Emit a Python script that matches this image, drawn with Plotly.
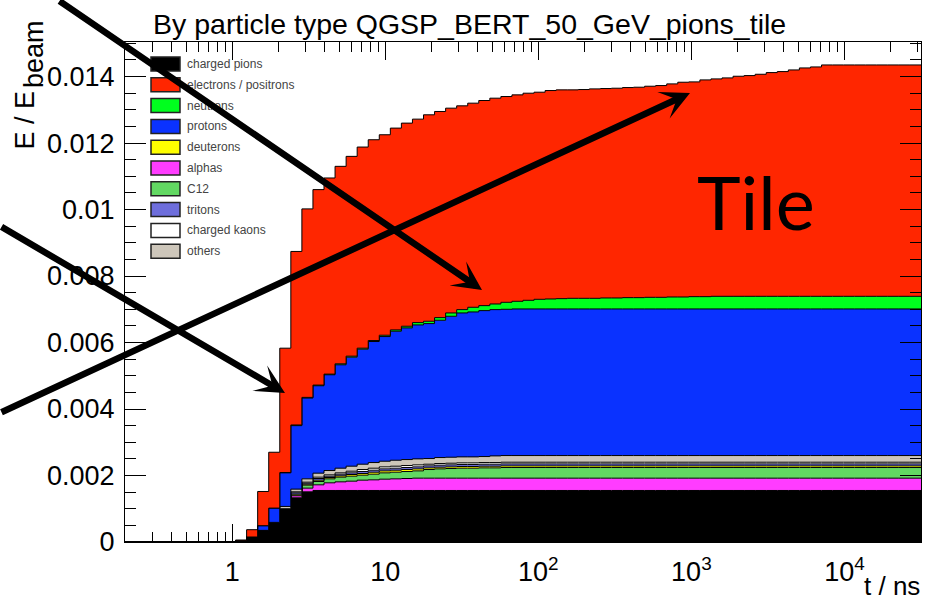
import numpy as np
import plotly.graph_objects as go

# ---- binning of the arrival-time histogram (log10 of t in ns) ----
LOG_T_MIN, LOG_T_MAX, N_BINS = -0.7, 4.5, 72
N_EMPTY = 10  # first bins (t < ~1.2 ns) hold no deposit

# ---- cumulative deposited energy per bin, E / E_beam (bins 10..71) ----
charged_pions = [0.00004, 0.00015, 0.00035, 0.00057, 0.00099, 0.00133, 0.00151] + [0.00155] * 55
alphas = [0, 0, 0, 0, 0,
          0.00006, 0.00011, 0.00017, 0.00023, 0.00026, 0.00028, 0.00031, 0.00032, 0.00034, 0.00035,
          0.00036] + [0.00037] * 46
c12 = [0, 0, 0, 0, 0,
       0.00002, 0.00009, 0.00010, 0.00012, 0.00014, 0.00015, 0.00015, 0.00017, 0.00019, 0.00020,
       0.00021, 0.00022, 0.00026, 0.00028, 0.00029, 0.00030, 0.00030, 0.00031, 0.00031] + [0.00032] * 38
deuterons = [0, 0, 0, 0, 0,
             0.00003, 0.00003, 0.00004, 0.00004, 0.00004, 0.00005, 0.00005] + [0.00006] * 5 + [0.00005] * 45
tritons = [0, 0, 0, 0, 0,
           0.00004, 0.00003, 0.00005, 0.00004, 0.00005, 0.00005, 0.00006] + [0.00006] * 5 + [0.00006] * 45
charged_kaons = [0, 0, 0, 0, 0.00001,
                 0.00003, 0.00003, 0.00004, 0.00004, 0.00004, 0.00005, 0.00006] + [0.00006] * 5 + [0.00005] * 45
others = [0, 0, 0,
          0.00002, 0.00007, 0.00008, 0.00010, 0.00012, 0.00013, 0.00014, 0.00015, 0.00016, 0.00017,
          0.00017, 0.00018, 0.00018, 0.00018, 0.00017] + [0.00018] * 5 + [0.00020] * 39
protons = [0, 0, 0.00014, 0.00043, 0.00101, 0.00191, 0.00243, 0.00263, 0.00288, 0.00311,
           0.00328, 0.00346, 0.00364, 0.00375, 0.00388, 0.00396, 0.00403, 0.00406, 0.00413, 0.00424,
           0.00433, 0.00436, 0.00439, 0.00440, 0.00440] + [0.00441] * 37
neutrons = [0, 0, 0, 0,
            0.00001, 0.00002, 0.00002, 0.00002, 0.00002, 0.00003, 0.00003, 0.00003, 0.00003, 0.00004,
            0.00004, 0.00005, 0.00007, 0.00007, 0.00008, 0.00010, 0.00010, 0.00014, 0.00015, 0.00017,
            0.00021, 0.00023, 0.00026, 0.00029, 0.00030, 0.00031, 0.00032, 0.00032, 0.00032, 0.00033,
            0.00033, 0.00034, 0.00034, 0.00035, 0.00035, 0.00036, 0.00036, 0.00037, 0.00037] + [0.00038] * 19
electrons = [0.00002, 0.00022, 0.00103, 0.00168, 0.00374, 0.00522, 0.00567, 0.00588, 0.00590, 0.00594,
             0.00601, 0.00605, 0.00604, 0.00603, 0.00607, 0.00611, 0.00612, 0.00621, 0.00620, 0.00616,
             0.00613, 0.00614, 0.00617, 0.00619, 0.00619, 0.00621, 0.00623, 0.00623, 0.00627, 0.00628,
             0.00627, 0.00628, 0.00630, 0.00630, 0.00631, 0.00632, 0.00633, 0.00635, 0.00637, 0.00641,
             0.00646, 0.00646, 0.00652, 0.00654, 0.00657, 0.00662, 0.00664, 0.00668, 0.00673, 0.00676,
             0.00681, 0.00687, 0.00690] + [0.00696] * 9

# legend order and colours
legend_names = ["charged pions", "electrons / positrons", "neutrons", "protons", "deuterons",
                "alphas", "C12", "tritons", "charged kaons", "others"]
colors = {
    "charged pions": "#000000",
    "electrons / positrons": "#ff2600",
    "neutrons": "#00ff1e",
    "protons": "#0a32ff",
    "deuterons": "#ffff00",
    "alphas": "#ff3cff",
    "C12": "#62d862",
    "tritons": "#6e6edc",
    "charged kaons": "#ffffff",
    "others": "#cdc6ba",
}
series = {
    "charged pions": charged_pions, "alphas": alphas, "C12": c12, "deuterons": deuterons,
    "tritons": tritons, "charged kaons": charged_kaons, "others": others, "protons": protons,
    "neutrons": neutrons, "electrons / positrons": electrons,
}
stack_order = ["charged pions", "alphas", "C12", "deuterons", "tritons", "charged kaons",
               "others", "protons", "neutrons", "electrons / positrons"]

x_ticks = [1, 10, 100, 1000, 10000]
x_tick_text = ["1", "10", "10<sup>2</sup>", "10<sup>3</sup>", "10<sup>4</sup>"]
y_ticks = [0, 0.002, 0.004, 0.006, 0.008, 0.010, 0.012, 0.014]
y_tick_text = ["0", "0.002", "0.004", "0.006", "0.008", "0.01", "0.012", "0.014"]
Y_MAX = 0.01504

edges = 10 ** np.linspace(LOG_T_MIN, LOG_T_MAX, N_BINS + 1)
minor_x = [k * 10.0 ** n for n in range(-1, 5) for k in range(2, 10)
           if 10 ** LOG_T_MIN <= k * 10.0 ** n <= 10 ** LOG_T_MAX]

FONT = "Liberation Sans"
W, H = 926, 604
L, R, T, B = 125, 5, 42, 62
PW, PH = W - L - R, H - T - B


def fx(px):
    return (px - L) / PW


def fy(py):
    return (H - B - py) / PH


fig = go.Figure()
for name in stack_order:
    vals = [0.0] * N_EMPTY + series[name]
    fig.add_trace(go.Scatter(
        x=list(edges), y=vals + [vals[-1]], mode="lines", name=name,
        line=dict(shape="hv", color="black", width=1),
        fillcolor=colors[name], stackgroup="hist", showlegend=False, hoverinfo="skip",
    ))

fig.update_layout(
    width=W, height=H, margin=dict(l=L, r=R, t=T, b=B),
    paper_bgcolor="white", plot_bgcolor="white",
    font=dict(family=FONT, color="black"),
    xaxis=dict(
        type="log", range=[LOG_T_MIN, LOG_T_MAX], tickvals=x_ticks, ticktext=x_tick_text,
        ticks="inside", ticklen=18, tickwidth=1, tickcolor="black",
        showline=True, linecolor="black", linewidth=1, mirror="ticks",
        showgrid=False, zeroline=False, tickfont=dict(size=27), ticklabelstandoff=6,
        minor=dict(tickvals=minor_x, ticks="inside", ticklen=10, tickcolor="black", showgrid=False),
    ),
    yaxis=dict(
        range=[0, Y_MAX], tickvals=y_ticks, ticktext=y_tick_text,
        ticks="inside", ticklen=21, tickwidth=1, tickcolor="black",
        showline=True, linecolor="black", linewidth=1, mirror="ticks",
        showgrid=False, zeroline=False, tickfont=dict(size=27), ticklabelstandoff=4,
        minor=dict(dtick=0.0005, ticks="inside", ticklen=11, tickcolor="black", showgrid=False),
    ),
)

ann = []
# title and axis titles
ann.append(dict(text="By particle type QGSP_BERT_50_GeV_pions_tile", x=fx(151), y=fy(6),
                xref="paper", yref="paper", xanchor="left", yanchor="top", showarrow=False,
                font=dict(size=28.5, family=FONT)))
ann.append(dict(text="t / ns", x=fx(922), y=fy(603), xref="paper", yref="paper",
                xanchor="right", yanchor="bottom", showarrow=False, font=dict(size=26, family=FONT)))
ann.append(dict(text="E / E", x=fx(24), y=fy(152), xref="paper", yref="paper", textangle=-90,
                xanchor="center", yanchor="bottom", showarrow=False, font=dict(size=27, family=FONT)))
ann.append(dict(text="beam", x=fx(34), y=fy(90), xref="paper", yref="paper", textangle=-90,
                xanchor="center", yanchor="bottom", showarrow=False, font=dict(size=27, family=FONT)))
ann.append(dict(text="Tile", x=fx(756), y=fy(202), xref="paper", yref="paper",
                xanchor="center", yanchor="middle", showarrow=False, font=dict(size=74, family="Lato")))

# legend box entries
shapes = []
for i, name in enumerate(legend_names):
    top = 57 + 20.8 * i
    shapes.append(dict(type="rect", xref="paper", yref="paper",
                       x0=fx(151), x1=fx(180), y0=fy(top), y1=fy(top + 14),
                       fillcolor=colors[name], line=dict(color="#222222", width=1.5)))
    ann.append(dict(text=name, x=fx(185), y=fy(top + 7), xref="paper", yref="paper",
                    xanchor="left", yanchor="middle", showarrow=False,
                    font=dict(size=12, family=FONT, color="#444444")))

# pointer arrows (tail -> head, in page pixels)
arrows = [((58, -4), (482, 290)), ((-6, 226), (285, 393)), ((-6, 413), (690, 93))]
for (tx, ty), (hx, hy) in arrows:
    ann.append(dict(x=fx(hx), y=fy(hy), xref="paper", yref="paper", text="",
                    showarrow=True, axref="pixel", ayref="pixel", ax=tx - hx, ay=ty - hy,
                    arrowhead=3, arrowsize=0.75, arrowwidth=6.5, arrowcolor="black"))

fig.update_layout(annotations=ann, shapes=shapes)
fig.write_html("out.html")
